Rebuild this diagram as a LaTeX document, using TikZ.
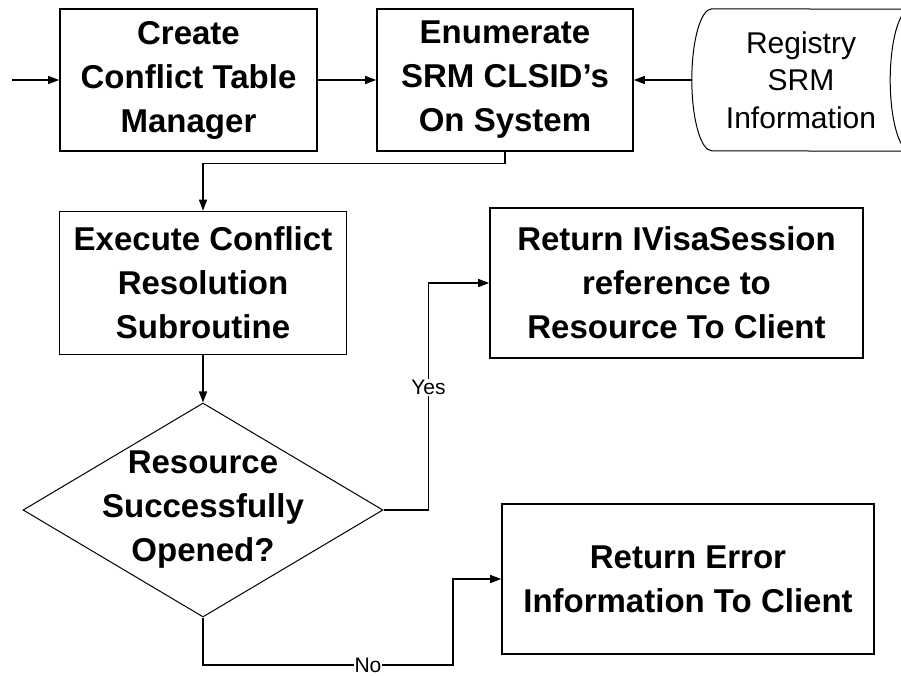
\documentclass[tikz,border=0pt]{standalone}
\usepackage{fontspec}
\setmainfont{Liberation Sans}
\usetikzlibrary{positioning,arrows.meta,shapes.geometric}

\tikzset{
  procbox/.style={draw, line width=1.6pt, inner sep=0pt, align=center,
    font=\fontsize{33}{44}\selectfont\bfseries},
  store/.style={inner sep=0pt, align=center, minimum width=218pt,
    minimum height=142pt, font=\fontsize{30}{37.5}\selectfont},
  decide/.style={draw, diamond, line width=1pt, inner sep=0pt,
    minimum width=360pt, minimum height=214pt},
  flow/.style={line width=1.3pt, -{Triangle[length=11pt,width=8pt]}},
  tag/.style={fill=white, inner sep=1pt, font=\fontsize{21}{21}\selectfont}
}

\begin{document}
\begin{tikzpicture}[x=1pt,y=-1pt,on grid]
  \useasboundingbox (0,0) rectangle (901,675);
  \clip (0,0) rectangle (901,675);
  \node[procbox, minimum width=257pt, minimum height=142pt] (create) at (188.5,80) {Create\\Conflict Table\\Manager};
  \node[procbox, minimum width=256pt, minimum height=142pt, right=316.5pt of create] (enum) {Enumerate\\SRM CLSID{\char"0027}s\\On System};
  \node[store, right=296pt of enum] (registry) {Registry\\SRM\\Information};
  \node[procbox, minimum width=287pt, minimum height=143pt, below right=203pt and 14.5pt of create] (exec) {Execute Conflict\\Resolution\\Subroutine};
  \node[decide, below=227pt of exec,
    label={[align=center, font=\fontsize{33}{44}\selectfont\bfseries]center:Resource\\Successfully\\Opened?}] (decision) {};
  \node[procbox, minimum width=373pt, minimum height=150pt, right=473.5pt of exec] (visa) {Return IVisaSession\\reference to\\Resource To Client};
  \node[procbox, minimum width=372pt, minimum height=150pt, below right=296pt and 11.5pt of visa] (error) {Return Error\\Information To Client};
  % stored data outline
  \draw[line width=1pt] ([xshift=20pt]registry.north west)
    arc[start angle=90, end angle=270, x radius=20pt, y radius=71pt]
    -- (registry.south east)
    arc[start angle=270, end angle=90, x radius=20pt, y radius=71pt] -- cycle;
  \coordinate (entry) at (12,80);
  \coordinate (nobend) at (453,665);
  \draw[flow] (entry) -- (create);
  \draw[flow] (create) -- (enum);
  \draw[flow] (registry.west) -- (enum.east);
  \draw[flow] (enum.south) -- ++(0,12) -| (exec.north);
  \draw[flow] (exec) -- (decision);
  \draw[flow] (decision.east) -- ++(45,0) |- node[tag, pos=0.27] {Yes} (visa.west);
  \draw[flow] (decision.south) |- node[tag, pos=0.83] {No} (nobend) |- (error.west);
\end{tikzpicture}
\end{document}
